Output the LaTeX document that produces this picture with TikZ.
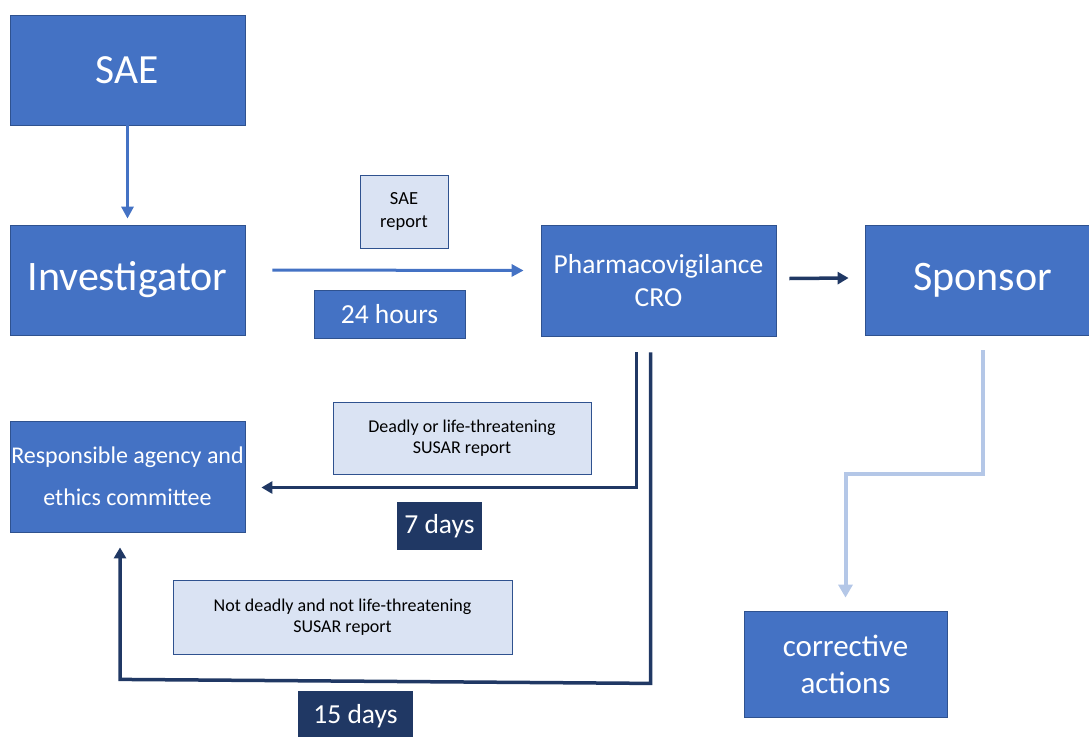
\documentclass[tikz,border=0pt]{standalone}
\usepackage{fontspec}
\setmainfont{Carlito}
\usetikzlibrary{arrows.meta,calc}
\definecolor{bfill}{HTML}{4472C4}
\definecolor{bdraw}{HTML}{2F528F}
\definecolor{lfill}{HTML}{DAE3F3}
\definecolor{navy}{HTML}{203864}
\definecolor{lblue}{HTML}{B4C7E7}
\newcommand{\fs}[1]{\fontsize{#1}{1.2\dimexpr#1pt\relax}\selectfont}
\begin{document}
\begin{tikzpicture}[x=1pt,y=-1pt,
  bluebox/.style={draw=bdraw, fill=bfill, line width=0.8pt, text=white, inner sep=0pt, align=center},
  lightbox/.style={draw=bdraw, fill=lfill, line width=0.8pt, text=black, inner sep=0pt, align=center},
  navybox/.style={fill=navy, text=white, inner sep=0pt, align=center},
  bluearrow/.style={draw=bfill, line width=3pt, -{Triangle[length=12pt,width=12pt]}},
  navyarrow/.style={draw=navy, line width=3.5pt, -{Triangle[length=11pt,width=12pt]}},
  lightarrow/.style={draw=lblue, line width=4pt, -{Triangle[length=13pt,width=14pt]}}
]
\useasboundingbox (0,0) rectangle (1089,736);
% main boxes
\node[bluebox, minimum width=235, minimum height=110, font=\fs{41.5}] (sae) at (127.5,70) {SAE};
\node[bluebox, minimum width=235, minimum height=110, font=\fs{42}] (inv) at (127.5,280) {Investigator};
\node[bluebox, minimum width=235, minimum height=111, font=\fs{27.5}] (cro) at (658.5,280.5) {Pharmacovigilance\\CRO};
\node[bluebox, minimum width=235, minimum height=110, font=\fs{42}] (spon) at (982.5,280) {Sponsor};
\node[bluebox, minimum width=235, minimum height=111, font=\fs{24}] (resp) at (127.5,476.5) {Responsible agency and\\[13pt]ethics committee};
\node[bluebox, minimum width=203, minimum height=106, font=\fs{31}] (corr) at (845.5,664) {corrective\\actions};
% labels
\node[lightbox, minimum width=88, minimum height=73, font=\fs{18.5}] (saerep) at (404,211.5) {SAE\\report};
\node[bluebox, minimum width=151, minimum height=48, font=\fs{27.5}] (h24) at (389.5,314) {24 hours};
\node[lightbox, minimum width=258, minimum height=72, font=\fs{18}] (deadly) at (462,438) {Deadly or life-threatening\\SUSAR report};
\node[navybox, minimum width=85, minimum height=48, font=\fs{27.5}] (d7) at (439.5,526) {7 days};
\node[lightbox, minimum width=339, minimum height=74, font=\fs{18}] (notdeadly) at (342.5,617) {Not deadly and not life-threatening\\SUSAR report};
\node[navybox, minimum width=115, minimum height=50, font=\fs{27.5}] (d15) at (355.5,716) {15 days};
% connectors
\draw[bluearrow] (sae.south) -- ($(inv.north)+(0,-6)$);
\draw[bluearrow] ($(inv.east)+(27,-10)$) -- ($(cro.west)+(-17,-10)$);
\draw[navyarrow] ($(cro.east)+(13,-2)$) -- ($(spon.west)+(-16,-2)$);
\draw[navyarrow] ($(cro.south)+(-22,16)$) |- ($(resp.east)+(16,11)$);
\draw[navyarrow] ($(cro.south)+(-8,16)$) -- ($(cro.south)+(-8,347)$) -- ($(resp.south)+(-7.5,147)$) -- ($(resp.south)+(-7.5,15)$);
\draw[lightarrow] ($(spon.south)+(0,15)$) |- ($(corr.north)+(0,-137)$) -- ($(corr.north)+(0,-13)$);
\end{tikzpicture}
\end{document}
